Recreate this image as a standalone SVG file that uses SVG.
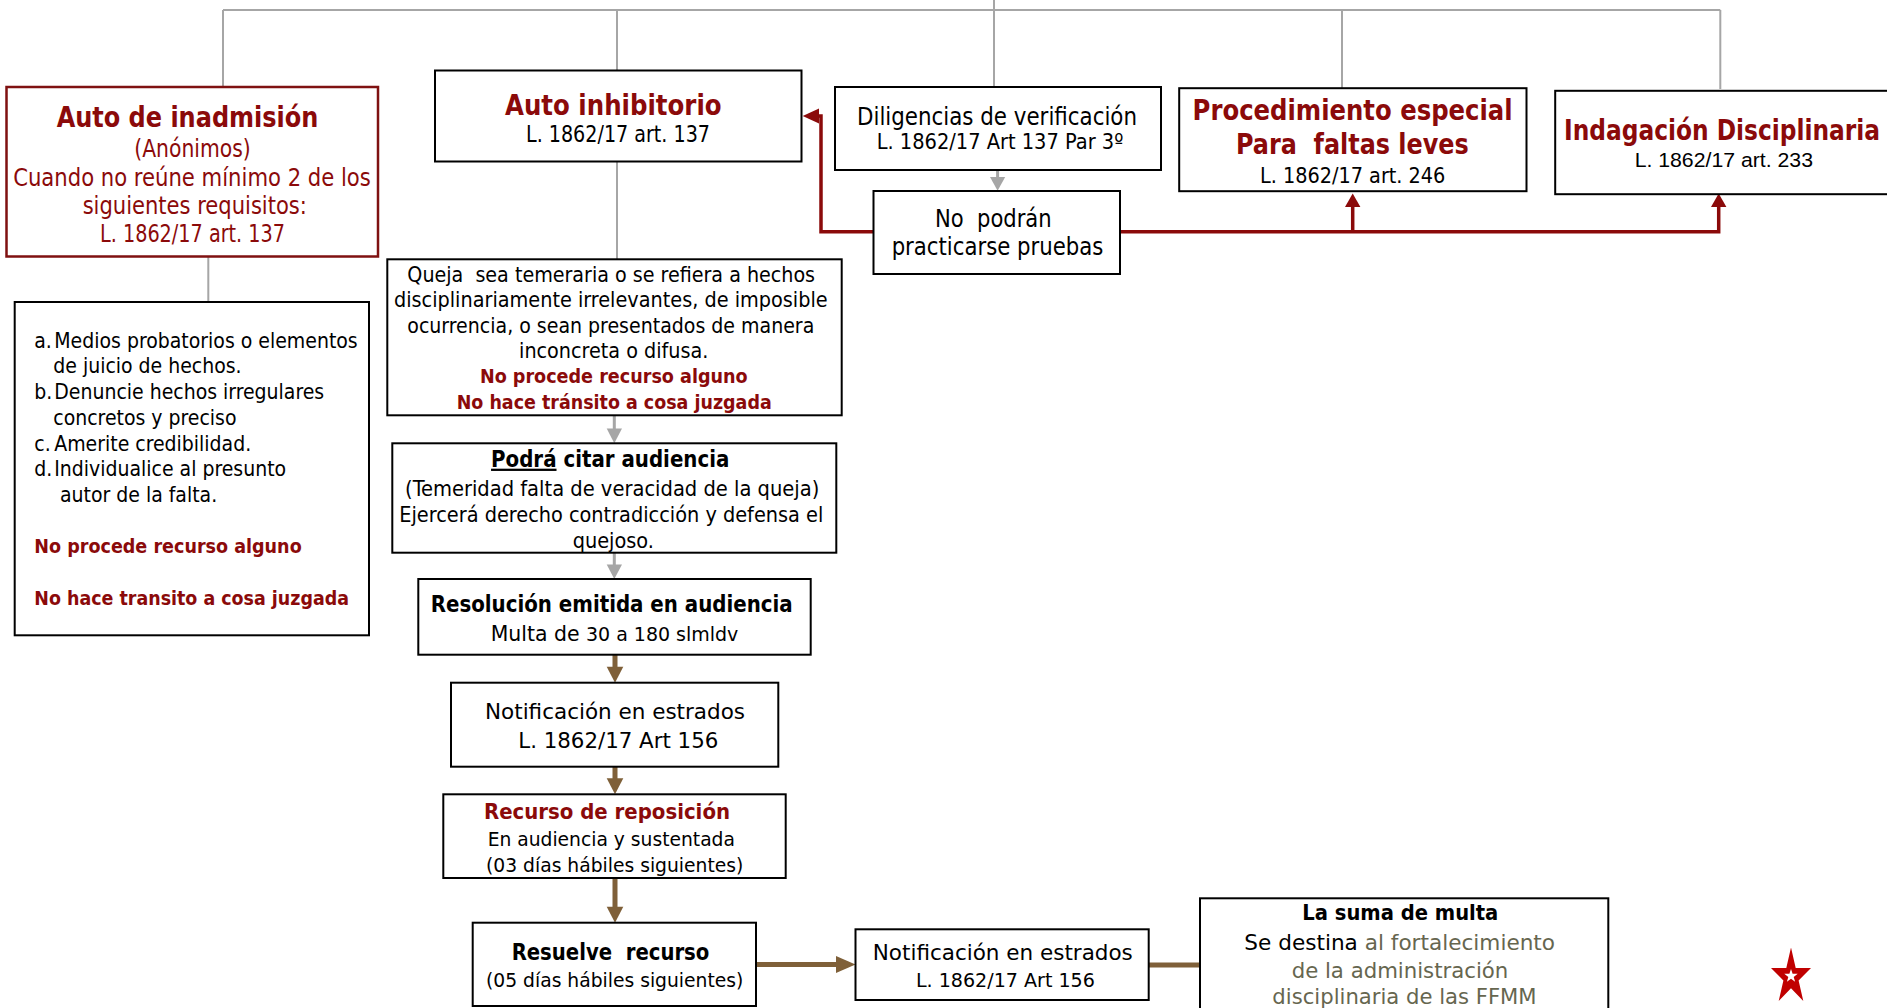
<svg xmlns="http://www.w3.org/2000/svg" width="1887" height="1008" viewBox="0 0 1887 1008">
<style>
text{font-family:"DejaVu Sans Condensed","DejaVu Sans",sans-serif;font-stretch:condensed;fill:#000}
.c{text-anchor:middle}
.b{font-weight:bold}
.r{fill:#8B0A0A}
.g{fill:#66664F}
.box{fill:#fff;stroke:#000;stroke-width:2}
.tree{fill:none;stroke:#A6A6A6;stroke-width:2}
.gray{fill:none;stroke:#A6A6A6;stroke-width:3}
.grayh{fill:#A6A6A6}
.brown{fill:none;stroke:#7F6039;stroke-width:5}
.brownh{fill:#7F6039}
.red{fill:none;stroke:#8B0A0A;stroke-width:3.5}
.redh{fill:#8B0A0A}
</style>
<rect width="1887" height="1008" fill="#fff"/>
<g id="connectors">
<path class="tree" d="M223,10 H1720.3 M223,10 V87 M617,10 V70.5 M994,0 V87 M1342,10 V88 M1720.3,10 V89 M617,161.7 V259.3 M208.3,256.7 V302"/>
<path class="gray" d="M997.6,170 V179 M614.3,415.3 V430 M614.3,552.7 V566"/>
<polygon class="grayh" points="990,177 1005.2,177 997.6,190.7"/>
<polygon class="grayh" points="606.7,428.5 622,428.5 614.3,443.3"/>
<polygon class="grayh" points="606.7,564.5 622,564.5 614.3,579"/>
<path class="brown" d="M615,654.7 V668 M615,766.7 V779 M615,878 V908 M756,964.5 H838 M1148.7,965 H1200"/>
<polygon class="brownh" points="606.7,666.7 623.3,666.7 615,682.7"/>
<polygon class="brownh" points="606.7,778.3 623.3,778.3 615,794.3"/>
<polygon class="brownh" points="606.7,906.7 623.3,906.7 615,922.7"/>
<polygon class="brownh" points="836,956 836,973 855.5,964.5"/>
<path class="red" d="M873.5,231.7 H821 V116 H816 M1120,231.7 H1718.7 V206 M1352.7,231.7 V206"/>
<polygon class="redh" points="819,108.5 819,123.5 802.7,116"/>
<polygon class="redh" points="1711,207 1726.4,207 1718.7,193.5"/>
<polygon class="redh" points="1345,207 1360.4,207 1352.7,193.5"/>
</g>
<g id="auto-inadmision">
<rect x="6.5" y="87" width="371.5" height="169.5" fill="#fff" stroke="#7F1111" stroke-width="2.5"/>
<text class="c b r" x="187.5" y="126.7" font-size="29" textLength="261.7" lengthAdjust="spacingAndGlyphs">Auto de inadmisión</text>
<text class="c r" x="192.5" y="156.5" font-size="24" textLength="116.4" lengthAdjust="spacingAndGlyphs">(Anónimos)</text>
<text class="c r" x="192" y="186" font-size="24" textLength="357.7" lengthAdjust="spacingAndGlyphs">Cuando no reúne mínimo 2 de los</text>
<text class="c r" x="194.8" y="214" font-size="24" textLength="224.3" lengthAdjust="spacingAndGlyphs">siguientes requisitos:</text>
<text class="c r" x="192.5" y="241.7" font-size="24" textLength="185" lengthAdjust="spacingAndGlyphs">L. 1862/17 art. 137</text>
</g>
<g id="auto-inhibitorio">
<rect class="box" x="435" y="70.5" width="366.5" height="91"/>
<text class="c b r" x="613.3" y="115" font-size="29" textLength="216.7" lengthAdjust="spacingAndGlyphs">Auto inhibitorio</text>
<text class="c" x="618" y="142.3" font-size="23" textLength="184" lengthAdjust="spacingAndGlyphs">L. 1862/17 art. 137</text>
</g>
<g id="diligencias">
<rect class="box" x="835" y="87" width="326" height="83"/>
<text class="c" x="997" y="125" font-size="24" textLength="280" lengthAdjust="spacingAndGlyphs">Diligencias de verificación</text>
<text class="c" x="1000" y="149.3" font-size="22" textLength="246.7" lengthAdjust="spacingAndGlyphs">L. 1862/17 Art 137 Par 3º</text>
</g>
<g id="no-podran">
<rect class="box" x="873.5" y="191" width="246.5" height="83"/>
<text class="c" x="993.3" y="226.7" font-size="24" xml:space="preserve" textLength="116.7" lengthAdjust="spacingAndGlyphs">No  podrán</text>
<text class="c" x="997.5" y="255" font-size="24" textLength="211.7" lengthAdjust="spacingAndGlyphs">practicarse pruebas</text>
</g>
<g id="procedimiento-especial">
<rect class="box" x="1179.2" y="88.2" width="347.3" height="103" stroke-width="3"/>
<text class="c b r" x="1352.6" y="120" font-size="29" textLength="320" lengthAdjust="spacingAndGlyphs">Procedimiento especial</text>
<text class="c b r" x="1352.4" y="154.3" font-size="29" xml:space="preserve" textLength="232.7" lengthAdjust="spacingAndGlyphs">Para  faltas leves</text>
<text class="c" x="1352.7" y="182.7" font-size="21" textLength="185.3" lengthAdjust="spacingAndGlyphs">L. 1862/17 art. 246</text>
</g>
<g id="indagacion">
<rect class="box" x="1555.2" y="90.8" width="345" height="103.4" stroke-width="5"/>
<text class="c b r" x="1722" y="140" font-size="28" textLength="316" lengthAdjust="spacingAndGlyphs">Indagación Disciplinaria</text>
<text class="c" x="1723.8" y="167.3" font-size="20.5" style="font-family:'Liberation Sans',Arial,sans-serif;font-stretch:normal" textLength="178.3" lengthAdjust="spacingAndGlyphs">L. 1862/17 art. 233</text>
</g>
<g id="requisitos">
<rect class="box" x="14.7" y="302" width="354.3" height="333.3"/>
<text font-size="21"><tspan x="34.3" y="348.3">a.</tspan><tspan x="54.3" y="348.3" textLength="303.4" lengthAdjust="spacingAndGlyphs">Medios probatorios o elementos</tspan></text>
<text font-size="21" x="53.3" y="373.3">de juicio de hechos.</text>
<text font-size="21"><tspan x="34.3" y="399.3">b.</tspan><tspan x="54.3" y="399.3">Denuncie hechos irregulares</tspan></text>
<text font-size="21" x="53.3" y="425">concretos y preciso</text>
<text font-size="21"><tspan x="34.3" y="451">c.</tspan><tspan x="54.3" y="451">Amerite credibilidad.</tspan></text>
<text font-size="21"><tspan x="34.3" y="476">d.</tspan><tspan x="54.3" y="476">Individualice al presunto</tspan></text>
<text font-size="21" x="60" y="501.7">autor de la falta.</text>
<text class="b r" font-size="20" x="34.3" y="553.3" textLength="267.4" lengthAdjust="spacingAndGlyphs">No procede recurso alguno</text>
<text class="b r" font-size="20" x="34.3" y="605" textLength="314.7" lengthAdjust="spacingAndGlyphs">No hace transito a cosa juzgada</text>
</g>
<g id="queja">
<rect class="box" x="387.3" y="259.3" width="454.4" height="156"/>
<text class="c" x="611.2" y="281.7" font-size="21" xml:space="preserve" textLength="407.7" lengthAdjust="spacingAndGlyphs">Queja  sea temeraria o se refiera a hechos</text>
<text class="c" x="610.8" y="306.7" font-size="21" textLength="433.7" lengthAdjust="spacingAndGlyphs">disciplinariamente irrelevantes, de imposible</text>
<text class="c" x="610.8" y="332.7" font-size="21" textLength="407" lengthAdjust="spacingAndGlyphs">ocurrencia, o sean presentados de manera</text>
<text class="c" x="613.7" y="358.3" font-size="21" textLength="189.3" lengthAdjust="spacingAndGlyphs">inconcreta o difusa.</text>
<text class="c b r" x="613.8" y="383.3" font-size="20" textLength="267.7" lengthAdjust="spacingAndGlyphs">No procede recurso alguno</text>
<text class="c b r" x="614.2" y="409" font-size="20" textLength="315" lengthAdjust="spacingAndGlyphs">No hace tránsito a cosa juzgada</text>
</g>
<g id="podra-citar">
<rect class="box" x="392.3" y="443.3" width="444" height="109.4"/>
<text class="c b" x="610.2" y="466.7" font-size="22.5" textLength="238.3" lengthAdjust="spacingAndGlyphs"><tspan text-decoration="underline">Podrá</tspan> citar audiencia</text>
<text class="c" x="612.2" y="496" font-size="21" textLength="414.3" lengthAdjust="spacingAndGlyphs">(Temeridad falta de veracidad de la queja)</text>
<text class="c" x="611.3" y="521.7" font-size="21" textLength="424" lengthAdjust="spacingAndGlyphs">Ejercerá derecho contradicción y defensa el</text>
<text class="c" x="613.3" y="547.7" font-size="21" textLength="81.3" lengthAdjust="spacingAndGlyphs">quejoso.</text>
</g>
<g id="resolucion">
<rect class="box" x="418.3" y="579" width="392.4" height="75.7"/>
<text class="c b" x="611.7" y="611.7" font-size="22.5" textLength="362" lengthAdjust="spacingAndGlyphs">Resolución emitida en audiencia</text>
<text class="c" x="614.5" y="641" font-size="21" textLength="247.7" lengthAdjust="spacingAndGlyphs">Multa de <tspan font-size="19.5">30 a 180 slmldv</tspan></text>
</g>
<g id="notificacion-1">
<rect class="box" x="451" y="682.7" width="327.3" height="84"/>
<text class="c" x="615" y="719.3" font-size="22" textLength="260" lengthAdjust="spacingAndGlyphs">Notificación en estrados</text>
<text class="c" x="618.3" y="747.7" font-size="22" textLength="200" lengthAdjust="spacingAndGlyphs">L. 1862/17 Art 156</text>
</g>
<g id="recurso-reposicion">
<rect class="box" x="443.3" y="794.3" width="342.4" height="83.7"/>
<text class="c b r" x="607" y="819.3" font-size="21.5" textLength="246" lengthAdjust="spacingAndGlyphs">Recurso de reposición</text>
<text class="c" x="611.3" y="846" font-size="20" textLength="247.3" lengthAdjust="spacingAndGlyphs">En audiencia y sustentada</text>
<text class="c" x="614.7" y="871.7" font-size="20" textLength="257.3" lengthAdjust="spacingAndGlyphs">(03 días hábiles siguientes)</text>
</g>
<g id="resuelve-recurso">
<rect class="box" x="472.7" y="922.7" width="283.3" height="83.3"/>
<text class="c b" x="610.5" y="960" font-size="22.5" xml:space="preserve" textLength="197.7" lengthAdjust="spacingAndGlyphs">Resuelve  recurso</text>
<text class="c" x="614.7" y="986.7" font-size="20" textLength="257.3" lengthAdjust="spacingAndGlyphs">(05 días hábiles siguientes)</text>
</g>
<g id="notificacion-2">
<rect class="box" x="855.5" y="929.3" width="293.2" height="70.7"/>
<text class="c" x="1002.8" y="960" font-size="22" textLength="260" lengthAdjust="spacingAndGlyphs">Notificación en estrados</text>
<text class="c" x="1005.4" y="986.7" font-size="19.5" textLength="179" lengthAdjust="spacingAndGlyphs">L. 1862/17 Art 156</text>
</g>
<g id="suma-multa">
<rect class="box" x="1200" y="898.3" width="408.3" height="130"/>
<text class="c b" x="1400.3" y="920" font-size="22" textLength="196" lengthAdjust="spacingAndGlyphs">La suma de multa</text>
<text class="c" x="1399.7" y="950" font-size="21" textLength="310.7" lengthAdjust="spacingAndGlyphs">Se destina <tspan class="g">al fortalecimiento</tspan></text>
<text class="c g" x="1400" y="978.3" font-size="21" textLength="216.7" lengthAdjust="spacingAndGlyphs">de la administración</text>
<text class="c g" x="1404.5" y="1004" font-size="21" textLength="264.3" lengthAdjust="spacingAndGlyphs">disciplinaria de las FFMM</text>
</g>
<g id="star">
<polygon fill="#C00000" points="1791,947.5 1795.7,967.9 1811,967.9 1798.6,980.5 1803.3,1000.9 1791,988.2 1778.7,1000.9 1783.4,980.5 1771,967.9 1786.3,967.9"/>
<polygon fill="#fff" points="1791,969 1792.6,973.7 1797.7,973.8 1793.7,976.9 1795.1,981.7 1791,978.8 1786.9,981.7 1788.3,976.9 1784.3,973.8 1789.4,973.7"/>
</g>
</svg>
